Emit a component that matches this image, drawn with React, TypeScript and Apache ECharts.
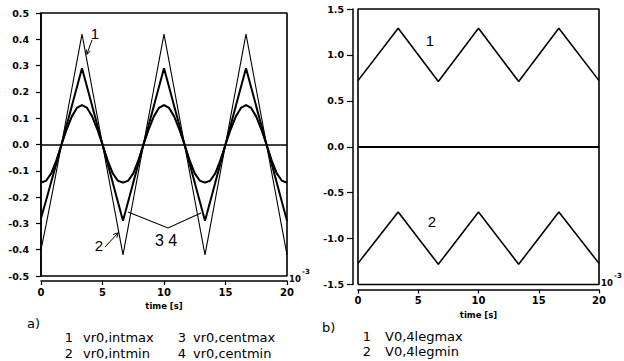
import React, { useEffect, useRef } from "react";
import * as echarts from "echarts";

// Left panel (a): time in ms (x 10^-3 s)
const timeA = [0, 0.417, 0.833, 1.25, 1.667, 2.083, 2.5, 2.917, 3.333, 3.75, 4.167, 4.583, 5, 5.417, 5.833, 6.25, 6.667, 7.083, 7.5, 7.917, 8.333, 8.75, 9.167, 9.583, 10, 10.417, 10.833, 11.25, 11.667, 12.083, 12.5, 12.917, 13.333, 13.75, 14.167, 14.583, 15, 15.417, 15.833, 16.25, 16.667, 17.083, 17.5, 17.917, 18.333, 18.75, 19.167, 19.583, 20];
const vr0IntMax = [-0.145, -0.138, -0.11, -0.06, 0, 0.105, 0.21, 0.315, 0.42, 0.315, 0.21, 0.105, 0, -0.06, -0.11, -0.138, -0.145, -0.138, -0.11, -0.06, 0, 0.105, 0.21, 0.315, 0.42, 0.315, 0.21, 0.105, 0, -0.06, -0.11, -0.138, -0.145, -0.138, -0.11, -0.06, 0, 0.105, 0.21, 0.315, 0.42, 0.315, 0.21, 0.105, 0, -0.06, -0.11, -0.138, -0.145];
const vr0IntMin = [-0.4, -0.305, -0.205, -0.103, 0, 0.057, 0.106, 0.139, 0.15, 0.139, 0.106, 0.057, 0, -0.105, -0.21, -0.315, -0.42, -0.315, -0.21, -0.105, 0, 0.057, 0.106, 0.139, 0.15, 0.139, 0.106, 0.057, 0, -0.105, -0.21, -0.315, -0.42, -0.315, -0.21, -0.105, 0, 0.057, 0.106, 0.139, 0.15, 0.139, 0.106, 0.057, 0, -0.105, -0.21, -0.315, -0.42];
const vr0CentMax = [-0.145, -0.138, -0.11, -0.06, 0, 0.073, 0.145, 0.218, 0.29, 0.218, 0.145, 0.073, 0, -0.06, -0.11, -0.138, -0.145, -0.138, -0.11, -0.06, 0, 0.073, 0.145, 0.218, 0.29, 0.218, 0.145, 0.073, 0, -0.06, -0.11, -0.138, -0.145, -0.138, -0.11, -0.06, 0, 0.073, 0.145, 0.218, 0.29, 0.218, 0.145, 0.073, 0, -0.06, -0.11, -0.138, -0.145];
const vr0CentMin = [-0.28, -0.212, -0.142, -0.072, 0, 0.057, 0.106, 0.139, 0.15, 0.139, 0.106, 0.057, 0, -0.073, -0.145, -0.218, -0.29, -0.218, -0.145, -0.073, 0, 0.057, 0.106, 0.139, 0.15, 0.139, 0.106, 0.057, 0, -0.073, -0.145, -0.218, -0.29, -0.218, -0.145, -0.073, 0, 0.057, 0.106, 0.139, 0.15, 0.139, 0.106, 0.057, 0, -0.073, -0.145, -0.218, -0.29];

// Right panel (b)
const timeB = [0, 3.333, 6.667, 10, 13.333, 16.667, 20];
const v04LegMax = [0.72, 1.29, 0.71, 1.29, 0.71, 1.29, 0.72];
const v04LegMin = [-1.27, -0.71, -1.28, -0.71, -1.28, -0.71, -1.27];

const xTicks = [0, 5, 10, 15, 20];
const yTicksA = [-0.5, 0.5, 0.1];
const yTicksB = [-1.5, 1.5, 0.5];

const INK = "#000";

const pair = (t: number[], v: number[]) => t.map((x, i) => [x, v[i]]);

export default function App() {
  const ref = useRef<HTMLDivElement>(null);
  useEffect(() => {
    document.body.style.margin = "0";
    const chart = echarts.init(ref.current!, undefined, { renderer: "svg" });
    const tickFont = { fontFamily: "DejaVu Sans", fontWeight: "bold" as const, fontSize: 9.5, color: INK };
    const xMin = xTicks[0];
    const xMax = xTicks[xTicks.length - 1];
    const xAxisBase = (gridIndex: number) => ({
      type: "value" as const,
      gridIndex,
      min: xMin,
      max: xMax,
      interval: xTicks[1] - xTicks[0],
      position: "bottom" as const,
      offset: 5,
      axisLine: { show: true, onZero: false, lineStyle: { color: INK, width: 1.5 } },
      axisTick: { show: true, length: 4, lineStyle: { color: INK, width: 1.2 } },
      axisLabel: { ...tickFont, fontSize: 10, margin: 6 },
      splitLine: { show: false },
      name: "time [s]",
      nameLocation: "middle" as const,
      nameGap: 19,
      nameTextStyle: { fontFamily: "DejaVu Sans", fontWeight: "bold" as const, fontSize: 8.5, color: INK },
    });
    const thin = (name: string, data: number[][], width: number, xi: number) => ({
      type: "line" as const,
      name,
      xAxisIndex: xi,
      yAxisIndex: xi,
      data,
      showSymbol: false,
      symbol: "none",
      lineStyle: { color: INK, width },
      z: 3,
    });
    // the plot frame, drawn through the axes' scales from their bounds
    const frameSeries = (xi: number, ymin: number, ymax: number) => ({
      type: "line" as const,
      name: "frame" + xi,
      xAxisIndex: xi,
      yAxisIndex: xi,
      data: [[xMin, ymin], [xMin, ymax], [xMax, ymax], [xMax, ymin], [xMin, ymin]],
      showSymbol: false,
      symbol: "none",
      clip: false,
      silent: true,
      lineStyle: { color: INK, width: 1.6 },
      z: 4,
    });
    const zeroLine = (width: number) => ({
      silent: true,
      symbol: ["none", "none"],
      label: { show: false },
      lineStyle: { color: INK, width, type: "solid" as const },
      data: [{ yAxis: 0 }],
    });
    const txt = (text: string, x: number, y: number, font: string, align = "left") => ({
      type: "text" as const,
      x,
      y,
      style: { text, font, fill: INK, textAlign: align, textVerticalAlign: "middle" },
    });
    const legendFont = "13px 'DejaVu Sans'";
    chart.setOption({
      animation: false,
      backgroundColor: "#fff",
      grid: [
        { left: 41, top: 13, width: 246, height: 263 },
        { left: 358, top: 9, width: 241, height: 275.5 },
      ],
      xAxis: [xAxisBase(0), xAxisBase(1)],
      yAxis: [
        {
          type: "value",
          gridIndex: 0,
          min: yTicksA[0],
          max: yTicksA[1],
          interval: yTicksA[2],
          position: "left",
          axisLine: { show: true, onZero: false, lineStyle: { color: INK, width: 1.5 } },
          axisTick: { show: true, length: 5, lineStyle: { color: INK, width: 1.2 } },
          axisLabel: { ...tickFont, margin: 12, formatter: (v: number) => v.toFixed(1) },
          splitLine: { show: false },
        },
        {
          type: "value",
          gridIndex: 1,
          min: yTicksB[0],
          max: yTicksB[1],
          interval: yTicksB[2],
          position: "left",
          offset: 5,
          axisLine: { show: true, onZero: false, lineStyle: { color: INK, width: 1.5 } },
          axisTick: { show: true, length: 6, lineStyle: { color: INK, width: 1.2 } },
          axisLabel: { ...tickFont, margin: 9, formatter: (v: number) => v.toFixed(1) },
          splitLine: { show: false },
        },
      ],
      series: [
        { ...thin("vr0,intmax", pair(timeA, vr0IntMax), 1.1, 0), markLine: zeroLine(1.5) },
        thin("vr0,intmin", pair(timeA, vr0IntMin), 1.1, 0),
        thin("vr0,centmax", pair(timeA, vr0CentMax), 2, 0),
        thin("vr0,centmin", pair(timeA, vr0CentMin), 2, 0),
        { ...thin("V0,4legmax", pair(timeB, v04LegMax), 1.6, 1), markLine: zeroLine(2) },
        thin("V0,4legmin", pair(timeB, v04LegMin), 1.6, 1),
        frameSeries(0, yTicksA[0], yTicksA[1]),
        frameSeries(1, yTicksB[0], yTicksB[1]),
      ],
      graphic: [
        // panel a annotations
        txt("1", 95, 33, "15px 'Liberation Sans'", "center"),
        { type: "line", shape: { x1: 92, y1: 40, x2: 87, y2: 54 }, style: { stroke: INK, lineWidth: 1 } },
        { type: "polyline", shape: { points: [[90.4, 50.8], [87, 54.5], [86.5, 49.5]] }, style: { stroke: INK, lineWidth: 1, fill: "none" } },
        txt("2", 99, 245, "15px 'Liberation Sans'", "center"),
        { type: "line", shape: { x1: 105, y1: 247, x2: 118, y2: 233 }, style: { stroke: INK, lineWidth: 1 } },
        { type: "polyline", shape: { points: [[113.2, 234.5], [118.3, 232.7], [116.8, 237.8]] }, style: { stroke: INK, lineWidth: 1, fill: "none" } },
        txt("3 4", 166, 240, "16px 'Liberation Sans'", "center"),
        { type: "polyline", shape: { points: [[128, 212], [168, 228], [201, 213]] }, style: { stroke: INK, lineWidth: 1.1, fill: "none" } },
        txt("10", 289, 279, "bold 8.5px 'DejaVu Sans'"),
        txt("-3", 302, 272, "bold 7px 'DejaVu Sans'"),
        // panel b annotations
        txt("1", 430, 40, "15px 'Liberation Sans'", "center"),
        txt("2", 432, 221, "15px 'Liberation Sans'", "center"),
        txt("10", 601, 283, "bold 8.5px 'DejaVu Sans'"),
        txt("-3", 614, 276, "bold 7px 'DejaVu Sans'"),
        // legends
        txt("a)", 27, 323, legendFont),
        txt("1", 69, 337, legendFont, "center"),
        txt("vr0,intmax", 83, 337, legendFont),
        txt("2", 69, 353, legendFont, "center"),
        txt("vr0,intmin", 83, 353, legendFont),
        txt("3", 182, 337, legendFont, "center"),
        txt("vr0,centmax", 193, 337, legendFont),
        txt("4", 182, 353, legendFont, "center"),
        txt("vr0,centmin", 193, 353, legendFont),
        txt("b)", 322, 327, legendFont),
        txt("1", 367, 336, legendFont, "center"),
        txt("V0,4legmax", 385, 336, legendFont),
        txt("2", 367, 351, legendFont, "center"),
        txt("V0,4legmin", 385, 351, legendFont),
      ],
    });
    return () => chart.dispose();
  }, []);
  return <div ref={ref} style={{ width: 624, height: 361 }} />;
}
